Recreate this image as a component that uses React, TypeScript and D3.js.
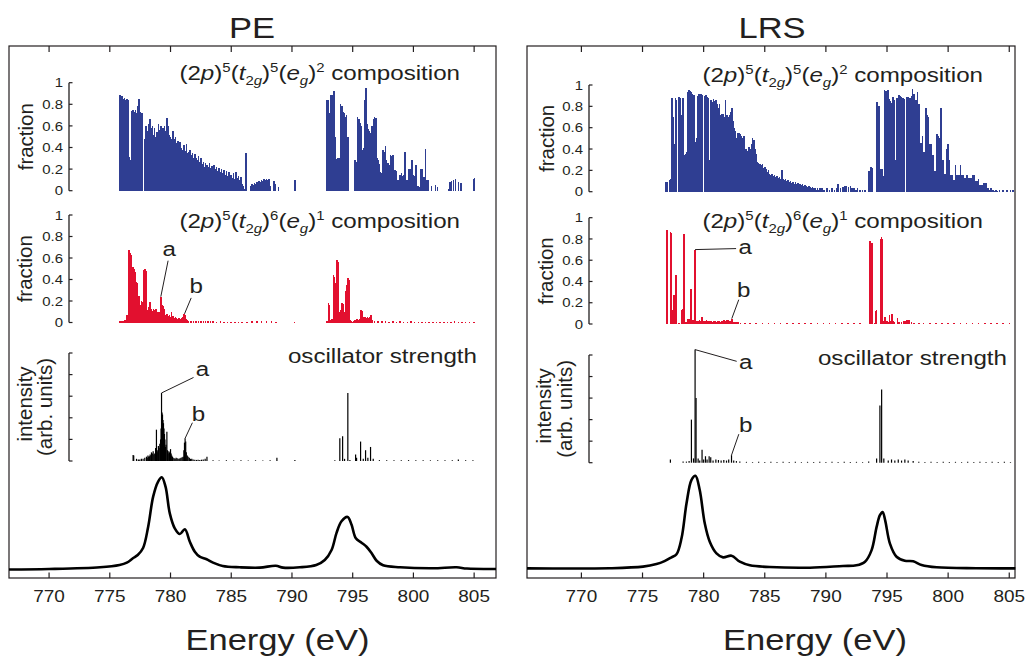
import React from "react";
import * as d3 from "d3";

type Pt = [number, number];

// ---------------- data ----------------
const ENERGY_TICKS = [770, 775, 780, 785, 790, 795, 800, 805];
const FRACTION_TICKS = [0, 0.2, 0.4, 0.6, 0.8, 1];
const FRACTION_LABELS = ["0", "0.2", "0.4", "0.6", "0.8", "1"];
const INTENSITY_TICKS = [0, 0.2, 0.4, 0.6, 0.8, 1];
const STEP = 0.1; // eV between neighbouring states in dense runs

// PE : (2p)5(t2g)5(eg)2 composition
const peBlueRunA_start = 775.8;
const peBlueRunA = [
  0.89, 0.89, 0.88, 0.85, 0.86, 0.84, 0.85, 0.84, 0.31, 0.28,
  0.74, 0.75, 0.73, 0.75, 0.72, 0.78, 0.85, 0.73, 0.72, 0.72,
  0, 0.48, 0.6, 0.55, 0.62, 0.66, 0.58, 0.6, 0.52, 0.58,
  0.5, 0.54, 0.62, 0.56, 0.6, 0.52, 0.58, 0.6, 0.55, 0.67,
  0.6, 0.52, 0.5, 0.48, 0.55, 0.48, 0.5, 0.44, 0.46, 0.42,
  0.45, 0.4, 0.38, 0.42, 0.37, 0.43, 0.35, 0.36, 0.38, 0.33,
  0.35, 0.3, 0.34, 0.3, 0.28, 0.32, 0.27, 0.3, 0.25, 0.27,
  0.22, 0.26, 0.24, 0.22, 0.26, 0.21, 0.23, 0.19, 0.24, 0.2,
  0.22, 0.18, 0.21, 0.17, 0.2, 0.16, 0.19, 0.15, 0.18, 0.14,
  0.17, 0.13, 0.15, 0.12, 0.16, 0.11, 0.17, 0.12, 0.14, 0.1,
  0.13, 0.06, 0.04, 0.02, 0.35,
];
const peBlueSparseE = [786.6, 786.7, 786.8, 786.9, 787.0, 787.1, 787.2, 787.3, 787.4, 787.5, 787.6, 787.7, 787.8, 787.9, 788.0, 788.1, 788.2, 788.5, 788.6, 788.9, 790.2, 790.25];
const peBlueSparseV = [0.04, 0.06, 0.05, 0.07, 0.06, 0.08, 0.07, 0.09, 0.08, 0.1, 0.09, 0.11, 0.1, 0.11, 0.1, 0.11, 0.04, 0.09, 0.06, 0.03, 0.1, 0.1];
const peBlueRunB_start = 792.9;
const peBlueRunB = [
  0.84, 0.84, 0.72, 0.886, 0.89, 0.92, 0.92, 0.5, 0.29, 0.3,
  0.3, 0.8, 0.78, 0.73, 0.72, 0.68, 0.7, 0.5, 0, 0,
  0, 0, 0, 0.28, 0.27, 0.68, 0.66, 0.63, 0.6, 0.38,
  0.4, 0.84, 0.95, 0.62, 0.57, 0.55, 0.53, 0.6, 0.66, 0.68,
  0.67, 0.3, 0.28, 0.25, 0.17, 0.16, 0.38, 0.36, 0.41, 0.28,
  0.26, 0.24, 0.33, 0.32, 0.33, 0.17, 0.19, 0.18, 0.1, 0.1,
  0.15, 0.16, 0.14, 0.15, 0.36, 0.1, 0.1, 0.2, 0.2, 0.19,
  0.28, 0.15, 0.14, 0.24, 0.04, 0.04, 0.03, 0.2, 0.2, 0.13,
  0.13, 0.39, 0.1, 0.1,
];
const peBlueTailE = [801.5, 801.8, 802.0, 802.9, 803.0, 803.15, 803.3, 803.45, 803.7, 803.9, 805.0, 805.05];
const peBlueTailV = [0.04, 0.05, 0.03, 0.02, 0.08, 0.09, 0.1, 0.11, 0.08, 0.07, 0.11, 0.12];

// PE : (2p)5(t2g)6(eg)1 composition
const peRedRunA_start = 775.8;
const peRedRunA = [
  0.01, 0.01, 0.015, 0.01, 0.02, 0.02, 0.07, 0.07, 0.67, 0.65,
  0.63, 0.52, 0.5, 0.47, 0.38, 0.37, 0.25, 0.16, 0.2, 0.19,
  0.49, 0.5, 0.48, 0.12, 0.14, 0.19, 0.13, 0.11, 0.13, 0.12,
  0.13, 0.1, 0.1, 0.1, 0.24, 0.16, 0.15, 0.13, 0.07, 0.08,
  0.06, 0.07, 0.05, 0.1, 0.06, 0.04, 0.05, 0.04, 0.035, 0.04,
  0.03, 0.04, 0.05, 0.08, 0.07, 0.03, 0.02, 0.015,
];
const peRedTinyE = [781.7, 781.9, 782.1, 782.3, 782.5, 782.7, 782.9, 783.1, 783.3, 783.5, 783.8, 784.1, 784.4, 784.7, 785.0, 785.3, 785.6, 785.9, 786.3, 786.7, 787.1, 787.5, 787.9, 788.3, 788.7, 790.2];
const peRedTinyV = [0.012, 0.01, 0.012, 0.01, 0.012, 0.01, 0.01, 0.012, 0.01, 0.01, 0.008, 0.01, 0.008, 0.008, 0.006, 0.008, 0.006, 0.006, 0.008, 0.01, 0.012, 0.01, 0.012, 0.01, 0.008, 0.006];
const peRedRunB_start = 792.9;
const peRedRunB = [
  0.01, 0.18, 0.16, 0.02, 0.03, 0.44, 0.42, 0.37, 0.58, 0.56,
  0.1, 0.12, 0.18, 0.17, 0.1, 0.29, 0.35, 0.41, 0.4, 0.02,
  0.01, 0.005, 0.01, 0.02, 0.03, 0.03, 0.02, 0.03, 0.12, 0.11,
  0.05, 0.05, 0.04, 0.05, 0.04, 0.05, 0.07, 0.02,
];
const peRedTailE = [796.8, 797.1, 797.4, 797.7, 798.0, 798.3, 798.6, 798.9, 799.2, 799.5, 799.8, 800.1, 800.4, 800.7, 801.0, 801.3, 801.6, 801.9, 802.2, 802.5, 802.8, 803.1, 803.4, 803.7, 804.0, 804.3, 804.6, 805.0];
const peRedTailV = [0.012, 0.01, 0.012, 0.01, 0.008, 0.01, 0.008, 0.01, 0.008, 0.008, 0.01, 0.008, 0.006, 0.008, 0.006, 0.008, 0.006, 0.006, 0.008, 0.006, 0.008, 0.006, 0.01, 0.008, 0.006, 0.008, 0.006, 0.008];

// PE : oscillator strength
const peOscE = [776.92, 776.97, 777.2, 777.35, 777.47, 777.6, 777.74, 777.88, 778.02, 778.08, 778.14, 778.2, 778.26, 778.32, 778.38, 778.43, 778.5, 778.57, 778.63, 778.7, 778.77, 778.84, 778.9, 778.95, 779.0, 779.06, 779.12, 779.18, 779.22, 779.26, 779.3, 779.34, 779.38, 779.42, 779.46, 779.5, 779.54, 779.58, 779.63, 779.7, 779.75, 779.8, 779.86, 779.92, 779.97, 780.0, 780.05, 780.1, 780.16, 780.21, 780.3, 780.38, 780.46, 780.54, 780.62, 780.71, 780.79, 780.87, 780.96, 781.04, 781.1, 781.15, 781.2, 781.25, 781.3, 781.38, 781.45, 781.55, 781.65, 781.75, 781.86, 782.0, 782.14, 782.27, 782.41, 782.55, 782.69, 782.85, 783.0, 783.5, 784.0, 784.6, 785.2, 785.8, 786.4, 787.0, 787.6, 788.2, 788.76, 790.24, 793.53, 793.94, 794.17, 794.33, 794.6, 794.77, 795.24, 795.32, 795.65, 795.87, 796.06, 796.25, 796.47, 796.69, 797.2, 797.8, 798.4, 799.0, 799.6, 800.2, 800.8, 801.4, 802.0, 802.6, 803.2, 803.7, 804.3, 804.9];
const peOscV = [0.055, 0.05, 0.02, 0.015, 0.015, 0.02, 0.02, 0.03, 0.04, 0.03, 0.05, 0.04, 0.045, 0.06, 0.05, 0.08, 0.07, 0.09, 0.06, 0.07, 0.12, 0.29, 0.08, 0.1, 0.14, 0.12, 0.16, 0.2, 0.3, 0.63, 0.45, 0.43, 0.38, 0.35, 0.3, 0.25, 0.2, 0.13, 0.15, 0.27, 0.1, 0.07, 0.09, 0.08, 0.06, 0.11, 0.07, 0.05, 0.04, 0.03, 0.025, 0.02, 0.03, 0.025, 0.02, 0.02, 0.025, 0.03, 0.035, 0.04, 0.1, 0.17, 0.21, 0.18, 0.08, 0.05, 0.04, 0.03, 0.02, 0.02, 0.015, 0.012, 0.01, 0.012, 0.01, 0.012, 0.015, 0.02, 0.04, 0.006, 0.005, 0.006, 0.005, 0.006, 0.005, 0.006, 0.005, 0.006, 0.03, 0.01, 0.006, 0.21, 0.23, 0.02, 0.63, 0.01, 0.06, 0.03, 0.18, 0.02, 0.1, 0.03, 0.13, 0.02, 0.008, 0.006, 0.008, 0.006, 0.008, 0.006, 0.008, 0.006, 0.008, 0.006, 0.008, 0.015, 0.006, 0.008];

// PE : simulated spectrum
const peSpecE = [766.7, 770, 774.2, 775.8, 776.4, 776.9, 777.3, 777.74, 778.16, 778.57, 778.98, 779.28, 779.59, 779.94, 780.35, 780.77, 781.18, 781.59, 782.0, 782.4, 782.97, 783.5, 784.3, 785.7, 787.35, 788.67, 789.27, 790.65, 792.0, 792.7, 793.26, 793.67, 794.08, 794.58, 794.9, 795.26, 795.73, 796.14, 796.56, 796.97, 797.5, 798.9, 801.6, 803.56, 804.4, 806.8];
const peSpecI = [0.0, 0.005, 0.024, 0.049, 0.074, 0.122, 0.157, 0.233, 0.464, 0.79, 0.953, 1.0, 0.898, 0.609, 0.447, 0.385, 0.436, 0.301, 0.193, 0.139, 0.111, 0.074, 0.038, 0.024, 0.02, 0.041, 0.02, 0.024, 0.049, 0.103, 0.212, 0.397, 0.523, 0.57, 0.487, 0.338, 0.291, 0.247, 0.176, 0.095, 0.046, 0.024, 0.013, 0.024, 0.01, 0.005];

// LRS : (2p)5(t2g)5(eg)2 composition
const lrsBlueRunA_start = 776.9;
const lrsBlueRunA = [
  0.09, 0.09, 0, 0.11, 0.12, 0.875, 0.7, 0.45, 0.875, 0.86,
  0, 0.89, 0.88, 0.72, 0.875, 0.34, 0.35, 0.37, 0.93, 0.95,
  0.94, 0.93, 0.92, 0.91, 0.47, 0.5, 0.9, 0.92, 0.91, 0.92,
  0.91, 0, 0.9, 0.91, 0.89, 0.88, 0.3, 0.86, 0.84, 0.87,
  0.85, 0.86, 0.82, 0.78, 0.82, 0.72, 0.73, 0.73, 0.7, 0.86,
  0.72, 0.7, 0.72, 0.75, 0.78, 0.66, 0.6, 0.57, 0.5, 0.55,
  0.55, 0.54, 0.52, 0.5, 0.52, 0.4, 0.4, 0.38, 0.42, 0.4,
  0.45, 0.5, 0.48, 0.4, 0.35, 0.28, 0.27, 0.26, 0.25, 0.26,
  0.22, 0.23, 0.21, 0.18, 0.2, 0.17, 0.16, 0.17, 0.15, 0.16,
  0.14, 0.15, 0.13, 0.14, 0.12, 0.2, 0.12, 0.11, 0.12, 0.1,
  0.11, 0.09, 0.1, 0.08, 0.09, 0.07, 0.09, 0.07, 0.08, 0.06,
  0.07, 0.06, 0.07, 0.05, 0.06, 0.05, 0.04, 0.05, 0.04, 0.03,
  0.04, 0.03, 0.03, 0.02, 0.03, 0.02, 0.03, 0.02, 0.03, 0.02,
];
const lrsBlueSparseE = [789.9, 790.1, 790.3, 790.5, 790.7, 790.85, 791.0, 791.2, 791.4, 791.55, 791.7, 791.85, 792.0, 792.15, 792.3, 792.45, 792.6, 792.8, 793.0, 793.2];
const lrsBlueSparseV = [0.02, 0.03, 0.02, 0.03, 0.02, 0.03, 0.07, 0.03, 0.04, 0.05, 0.05, 0.04, 0.05, 0.03, 0.03, 0.02, 0.03, 0.02, 0.02, 0.02];
const lrsBlueRunB_start = 793.5;
const lrsBlueRunB = [
  0.19, 0.19, 0.23, 0.22, 0, 0, 0, 0.84, 0.8, 0.8,
  0.21, 0.21, 0.15, 0.95, 0.94, 0.91, 0.95, 0.87, 0.85, 0.83,
  0.89, 0.86, 0.3, 0.88, 0.88, 0.91, 0.9, 0.89, 0.88, 0.87,
  0, 0.89, 0.89, 0.88, 0.88, 0.9, 0.96, 0.92, 0.86, 0.86,
  0.93, 0.82, 0.46, 0.46, 0.52, 0.37, 0.37, 0.78, 0.72, 0.7,
  0.45, 0.45, 0.34, 0.34, 0.19, 0.19, 0.54, 0.52, 0.5, 0.78,
  0.3, 0.3, 0.17, 0.17, 0.4, 0.45, 0.3, 0.16, 0.16, 0.11,
  0.11, 0.25, 0.16, 0.16, 0.16, 0.25, 0.16, 0.16, 0.13, 0.13,
  0.16, 0.16, 0.13, 0.13, 0.13, 0.16, 0.16, 0.1, 0.1, 0.1,
  0.12, 0.06, 0.06, 0.06, 0.08, 0.08, 0.08, 0.03, 0.03, 0.02,
  0.03, 0.02, 0.02, 0.01, 0.02, 0.01,
];
const lrsBlueTailE = [804.2, 804.5, 804.8, 805.1, 805.3];
const lrsBlueTailV = [0.02, 0.015, 0.02, 0.015, 0.02];

// LRS : (2p)5(t2g)6(eg)1 composition
const lrsRedE = [777.0, 777.05, 777.3, 777.35, 777.5, 777.58, 777.74, 777.8, 778.0, 778.2, 778.25, 778.4, 778.45, 778.55, 778.7, 778.8, 778.98, 779.05, 779.15, 779.3, 779.35, 779.45, 779.55, 779.65, 779.75, 779.85, 779.95,
  780.05, 780.15, 780.25, 780.35, 780.45, 780.55, 780.65, 780.75, 780.85, 780.95, 781.05, 781.15, 781.25, 781.35, 781.45, 781.55, 781.65, 781.75, 781.85, 781.95, 782.05, 782.15, 782.3, 782.4, 782.5, 782.65, 782.8, 783.0,
  783.4, 783.8, 784.3, 784.8, 785.3, 785.8, 786.3, 786.8, 787.3, 787.8, 788.3, 788.8, 789.3, 789.8, 790.3, 790.8, 791.3, 791.8, 792.3, 792.8,
  793.6, 793.65, 793.75, 793.8, 794.0, 794.1, 794.15, 794.5, 794.55, 794.6, 794.7, 794.85, 795.0, 795.1, 795.2, 795.3, 795.4, 795.5, 795.6, 795.85, 796.0, 796.2, 796.4, 796.5, 796.6, 796.7, 796.8, 797.0, 797.2,
  797.6, 798.0, 798.5, 799.0, 799.5, 800.0, 800.5, 801.0, 801.5, 802.0, 802.5, 803.0, 803.5, 804.0, 804.5, 805.0];
const lrsRedV = [0.88, 0.88, 0.87, 0.86, 0.13, 0.27, 0.46, 0.31, 0.01, 0.13, 0.14, 0.85, 0.63, 0.02, 0.05, 0.05, 0.33, 0.04, 0.04, 0.7, 0.47, 0.03, 0.03, 0.04, 0.03, 0.07, 0.03,
  0.03, 0.025, 0.035, 0.025, 0.03, 0.025, 0.03, 0.02, 0.025, 0.03, 0.02, 0.025, 0.03, 0.02, 0.025, 0.03, 0.035, 0.03, 0.04, 0.035, 0.04, 0.03, 0.05, 0.02, 0.02, 0.015, 0.015, 0.01,
  0.008, 0.008, 0.006, 0.008, 0.01, 0.006, 0.008, 0.006, 0.008, 0.006, 0.008, 0.01, 0.006, 0.008, 0.006, 0.01, 0.008, 0.006, 0.008, 0.006,
  0.78, 0.77, 0.76, 0.76, 0.01, 0.12, 0.13, 0.8, 0.82, 0.8, 0.03, 0.07, 0.03, 0.02, 0.08, 0.03, 0.09, 0.03, 0.02, 0.06, 0.02, 0.02, 0.03, 0.03, 0.04, 0.04, 0.04, 0.02, 0.01,
  0.008, 0.006, 0.008, 0.006, 0.008, 0.006, 0.008, 0.006, 0.008, 0.006, 0.008, 0.006, 0.008, 0.006, 0.008, 0.006];

// LRS : oscillator strength
const lrsOscE = [777.28, 778.32, 778.59, 778.81, 779.0, 779.17, 779.3, 779.38, 779.55, 779.68, 779.87, 780.0, 780.15, 780.28, 780.45, 780.58, 780.77, 781.0, 781.21, 781.43, 781.65, 781.87, 782.05, 782.28, 782.46, 782.68, 782.96,
  783.5, 784.0, 784.5, 785.0, 785.5, 786.0, 786.5, 787.0, 787.5, 788.0, 788.5, 789.0, 789.5, 790.0, 790.5, 791.0, 791.5, 792.0, 792.5, 793.0, 793.5,
  794.15, 794.42, 794.56, 794.74, 795.1, 795.37, 795.64, 795.92, 796.19, 796.46, 796.73, 797.14,
  797.6, 798.1, 798.6, 799.1, 799.6, 800.1, 800.6, 801.1, 801.6, 802.1, 802.6, 803.1, 803.6, 804.1, 804.6, 805.1];
const lrsOscV = [0.03, 0.01, 0.01, 0.015, 0.4, 0.04, 1.05, 0.6, 0.04, 0.02, 0.12, 0.03, 0.06, 0.03, 0.06, 0.05, 0.02, 0.03, 0.025, 0.02, 0.025, 0.02, 0.03, 0.07, 0.02, 0.015, 0.01,
  0.008, 0.006, 0.008, 0.006, 0.008, 0.006, 0.008, 0.006, 0.008, 0.006, 0.008, 0.006, 0.008, 0.006, 0.008, 0.006, 0.008, 0.006, 0.008, 0.006, 0.01,
  0.04, 0.53, 0.68, 0.04, 0.02, 0.03, 0.02, 0.03, 0.02, 0.03, 0.02, 0.015,
  0.008, 0.006, 0.008, 0.006, 0.008, 0.006, 0.008, 0.006, 0.008, 0.006, 0.008, 0.006, 0.008, 0.006, 0.008, 0.006];

// LRS : simulated spectrum
const lrsSpecE = [765.55, 772.3, 775.04, 776.14, 776.8, 777.37, 777.78, 778.19, 778.6, 779.0, 779.33, 779.68, 780.09, 780.5, 781.05, 781.59, 782.28, 782.96, 783.78, 785.4, 788.7, 791.4, 792.5, 793.2, 793.74, 794.15, 794.42, 794.64, 794.85, 795.24, 795.78, 796.46, 797.14, 797.83, 799.06, 802.3, 805.5];
const lrsSpecI = [0.004, 0.005, 0.022, 0.05, 0.082, 0.122, 0.155, 0.327, 0.703, 0.953, 1.0, 0.846, 0.488, 0.29, 0.165, 0.122, 0.14, 0.075, 0.036, 0.018, 0.011, 0.029, 0.036, 0.075, 0.2, 0.45, 0.575, 0.61, 0.52, 0.27, 0.129, 0.086, 0.08, 0.04, 0.015, 0.005, 0.004];

// ---------------- helpers ----------------
const run = (start: number, vals: number[]): Pt[] => vals.map((v, i) => [start + i * STEP, v]);
const zip = (es: number[], vs: number[]): Pt[] => es.map((e, i) => [e, vs[i]]);

const PE_DATA = {
  blue: [...run(peBlueRunA_start, peBlueRunA), ...zip(peBlueSparseE, peBlueSparseV), ...run(peBlueRunB_start, peBlueRunB), ...zip(peBlueTailE, peBlueTailV)],
  red: [...run(peRedRunA_start, peRedRunA), ...zip(peRedTinyE, peRedTinyV), ...run(peRedRunB_start, peRedRunB), ...zip(peRedTailE, peRedTailV)],
  osc: zip(peOscE, peOscV),
  spec: zip(peSpecE, peSpecI),
};
const LRS_DATA = {
  blue: [...run(lrsBlueRunA_start, lrsBlueRunA), ...zip(lrsBlueSparseE, lrsBlueSparseV), ...run(lrsBlueRunB_start, lrsBlueRunB), ...zip(lrsBlueTailE, lrsBlueTailV)],
  red: zip(lrsRedE, lrsRedV),
  osc: zip(lrsOscE, lrsOscV),
  spec: zip(lrsSpecE, lrsSpecI),
};

// ---------------- layout / style ----------------
const FONT = '"Liberation Sans", Arial, Helvetica, sans-serif';
const INK = "#231f20";
const BLUE = "#2f3e92";
const RED = "#e2102f";
const SX = 1.15; // horizontal stretch of the original lettering

const LAYOUTS = [
  {
    title: "PE", titleX: 252, x0: 9, x1: 496, xDomain: [766.7, 806.8], axisX: 69,
    blueY: [190.7, 82.7], redY: [322.5, 215], oscY: [461, 353], specY: [569.5, 477.3],
    fracLabelX: 33, intLabelX: 32, arbLabelX: 51.5,
    compRight: 460, comp1Y: 80, comp2Y: 228, oscRight: 477, oscTextY: 363, energyX: 277.5,
    redAnn: [
      { t: "a", e: 779.2, v: 0.24, dx: 7.3, dy: -36, tx: 1, ty: -5 },
      { t: "b", e: 781.15, v: 0.08, dx: 6.7, dy: -16, tx: 5, ty: -5 },
    ],
    oscAnn: [
      { t: "a", e: 779.26, v: 0.63, dx: 32, dy: -15.5, tx: 9, ty: -1 },
      { t: "b", e: 781.2, v: 0.21, dx: 7.3, dy: -15.6, tx: 6, ty: -2 },
    ],
  },
  {
    title: "LRS", titleX: 772, x0: 527, x1: 1015, xDomain: [765.55, 805.47], axisX: 589,
    blueY: [191.7, 85], redY: [324, 217.7], oscY: [462.7, 355], specY: [568.7, 475.7],
    fracLabelX: 554, intLabelX: 551, arbLabelX: 571.5,
    compRight: 983, comp1Y: 81.7, comp2Y: 228, oscRight: 1007, oscTextY: 365, energyX: 815,
    redAnn: [
      { t: "a", e: 779.3, v: 0.7, dx: 41, dy: -1, tx: 9, ty: 5 },
      { t: "b", e: 782.3, v: 0.05, dx: 7, dy: -19, tx: 5, ty: -3 },
    ],
    oscAnn: [
      { t: "a", e: 779.3, v: 1.05, dx: 41.6, dy: 11.7, tx: 9, ty: 8 },
      { t: "b", e: 782.28, v: 0.07, dx: 7.3, dy: -21, tx: 7, ty: -1.7 },
    ],
  },
];

type Layout = typeof LAYOUTS[number];

function HText(props: { x: number; y: number; size: number; anchor?: string; children: React.ReactNode }) {
  const { x, y, size, anchor = "start", children } = props;
  return (
    <text transform={`translate(${x},${y}) scale(${SX},1)`} textAnchor={anchor} fontSize={size} fill={INK} fontFamily={FONT}>
      {children}
    </text>
  );
}

function VText(props: { x: number; y: number; size: number; children: React.ReactNode }) {
  return (
    <text transform={`translate(${props.x},${props.y}) rotate(-90)`} textAnchor="middle" fontSize={props.size} fill={INK} fontFamily={FONT}>
      {props.children}
    </text>
  );
}

function Composition({ x, y, t2g, eg }: { x: number; y: number; t2g: string; eg: string }) {
  const s = 13;
  return (
    <HText x={x} y={y} size={21} anchor="end">
      <tspan>(2</tspan>
      <tspan fontStyle="italic">p</tspan>
      <tspan>)</tspan>
      <tspan fontSize={s} dy={-8}>5</tspan>
      <tspan dy={8}>(</tspan>
      <tspan fontStyle="italic">t</tspan>
      <tspan fontSize={s} dy={5}>2</tspan>
      <tspan fontSize={s} fontStyle="italic">g</tspan>
      <tspan dy={-5}>)</tspan>
      <tspan fontSize={s} dy={-8}>{t2g}</tspan>
      <tspan dy={8}>(</tspan>
      <tspan fontStyle="italic">e</tspan>
      <tspan fontSize={s} dy={5} fontStyle="italic">g</tspan>
      <tspan dy={-5}>)</tspan>
      <tspan fontSize={s} dy={-8}>{eg}</tspan>
      <tspan dy={8}>{" composition"}</tspan>
    </HText>
  );
}

function Bars({ pts, x, y, color, width, crisp }: { pts: Pt[]; x: d3.ScaleLinear<number, number>; y: d3.ScaleLinear<number, number>; color: string; width: number; crisp?: boolean }) {
  return (
    <g stroke={color} strokeWidth={width} shapeRendering={crisp ? "crispEdges" : undefined}>
      {pts.filter((p) => p[1] > 0).map((p, i) => (
        <line key={i} x1={x(p[0])} x2={x(p[0])} y1={y(0)} y2={y(p[1])} />
      ))}
    </g>
  );
}

function Annotations({ anns, x, y }: { anns: Layout["redAnn"]; x: d3.ScaleLinear<number, number>; y: d3.ScaleLinear<number, number> }) {
  return (
    <g>
      {anns.map((a, i) => {
        const sx = x(a.e), sy = y(a.v);
        const ex = sx + a.dx, ey = sy + a.dy;
        return (
          <g key={i}>
            <line x1={sx} y1={sy} x2={ex} y2={ey} stroke={INK} strokeWidth={1} />
            <HText x={ex + a.tx} y={ey + a.ty} size={21} anchor="middle">{a.t}</HText>
          </g>
        );
      })}
    </g>
  );
}

function Panel({ L, D }: { L: Layout; D: typeof PE_DATA }) {
  const top = 46, bottom = 578;
  const x = d3.scaleLinear().domain(L.xDomain).range([L.x0, L.x1]);
  const yB = d3.scaleLinear().domain([0, 1]).range(L.blueY);
  const yR = d3.scaleLinear().domain([0, 1]).range(L.redY);
  const yO = d3.scaleLinear().domain([0, 1]).range(L.oscY);
  const yS = d3.scaleLinear().domain([0, 1]).range(L.specY);
  const line = d3.line<Pt>().x((d) => x(d[0])).y((d) => yS(d[1])).curve(d3.curveCatmullRom.alpha(0.5));
  const yAxis = (ys: d3.ScaleLinear<number, number>, labels: boolean) => (
    <g>
      <line x1={L.axisX} x2={L.axisX} y1={ys(0)} y2={ys(1)} stroke={INK} strokeWidth={1.3} />
      {(labels ? FRACTION_TICKS : INTENSITY_TICKS).map((t, i) => (
        <g key={i}>
          <line x1={L.axisX} x2={L.axisX + 3.5} y1={ys(t)} y2={ys(t)} stroke={INK} strokeWidth={1.2} />
          {labels && (
            <HText x={L.axisX - 6} y={ys(t) + 4.6} size={13} anchor="end">{FRACTION_LABELS[i]}</HText>
          )}
        </g>
      ))}
    </g>
  );
  const midB = (L.blueY[0] + L.blueY[1]) / 2;
  const midR = (L.redY[0] + L.redY[1]) / 2;
  const midO = (L.oscY[0] + L.oscY[1]) / 2;
  return (
    <g>
      <HText x={L.titleX} y={38} size={30} anchor="middle">{L.title}</HText>
      <rect x={L.x0} y={top} width={L.x1 - L.x0} height={bottom - top} fill="none" stroke={INK} strokeWidth={1.2} />
      {ENERGY_TICKS.map((t) => (
        <g key={t}>
          <line x1={x(t)} x2={x(t)} y1={top} y2={top + 6} stroke={INK} strokeWidth={1.2} />
          <line x1={x(t)} x2={x(t)} y1={bottom} y2={bottom - 5.5} stroke={INK} strokeWidth={1.2} />
          <HText x={x(t)} y={601.7} size={16.5} anchor="middle">{String(t)}</HText>
        </g>
      ))}
      <HText x={L.energyX} y={650} size={30} anchor="middle">Energy (eV)</HText>

      {/* composition panels */}
      <Bars pts={D.blue} x={x} y={yB} color={BLUE} width={1.5} crisp />
      {yAxis(yB, true)}
      <VText x={L.fracLabelX} y={midB} size={20.5}>fraction</VText>
      <Composition x={L.compRight} y={L.comp1Y} t2g="5" eg="2" />

      <Bars pts={D.red} x={x} y={yR} color={RED} width={1.5} crisp />
      {yAxis(yR, true)}
      <VText x={L.fracLabelX - 1} y={midR} size={20.5}>fraction</VText>
      <Composition x={L.compRight} y={L.comp2Y} t2g="6" eg="1" />
      <Annotations anns={L.redAnn} x={x} y={yR} />

      {/* oscillator strength */}
      <Bars pts={D.osc} x={x} y={yO} color="#000" width={1.2} />
      {yAxis(yO, false)}
      <VText x={L.intLabelX} y={midO - 3} size={20.5}>intensity</VText>
      <VText x={L.arbLabelX} y={midO} size={20.5}>(arb. units)</VText>
      <HText x={L.oscRight} y={L.oscTextY} size={21} anchor="end">oscillator strength</HText>
      <Annotations anns={L.oscAnn} x={x} y={yO} />

      {/* spectrum */}
      <path d={line(D.spec) || ""} fill="none" stroke="#000" strokeWidth={2.6} strokeLinejoin="round" />
    </g>
  );
}

export default function App() {
  return (
    <svg width={1028} height={666} style={{ position: "absolute", left: 0, top: 0, background: "#fff" }}>
      <rect width={1028} height={666} fill="#fff" />
      <Panel L={LAYOUTS[0]} D={PE_DATA} />
      <Panel L={LAYOUTS[1]} D={LRS_DATA} />
    </svg>
  );
}
